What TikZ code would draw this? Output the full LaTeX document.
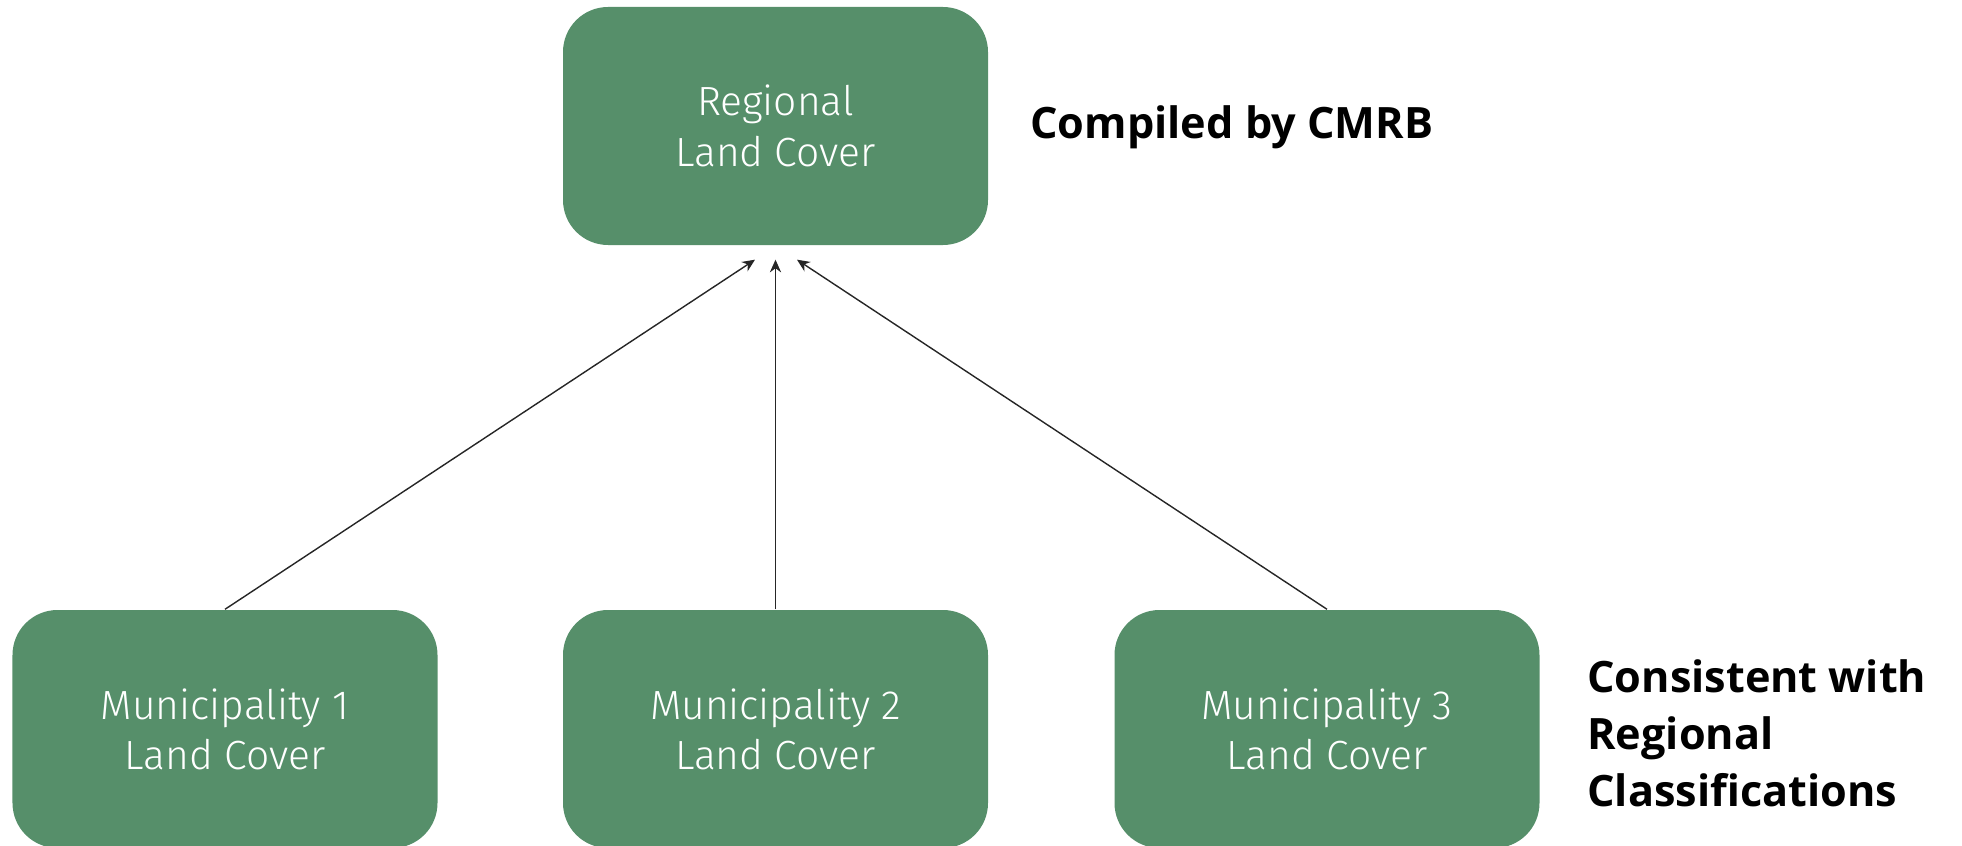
\documentclass[tikz,border=0pt]{standalone}
\usepackage{fontspec}
\setmainfont{Fira Sans}
\newfontfamily\boxfont{Fira Sans Light}
\newfontfamily\notefont{Open Sans}
\usetikzlibrary{arrows.meta}

\definecolor{boxgreen}{RGB}{86,143,106}

\tikzset{
    landbox/.style={rectangle, rounded corners=0.45cm, fill=boxgreen, text=white,
        minimum width=4.25cm, minimum height=2.38cm, align=center,
        font=\boxfont\fontsize{11.6}{14.3}\selectfont},
    note/.style={align=left, font=\notefont\bfseries\fontsize{12.3}{16.2}\selectfont},
    feed/.style={-{Stealth[length=3.6pt,width=3.2pt]}, draw=black!85, line width=0.4pt}
}

\begin{document}
\begin{tikzpicture}
    \useasboundingbox (0,0) rectangle (19.62,8.45);

    % Boxes
    \node[landbox] (regional) at (7.755,7.19) {Regional\\Land Cover};
    \node[landbox] (muni1) at (2.25,1.16) {Municipality 1\\Land Cover};
    \node[landbox] (muni2) at (7.755,1.16) {Municipality 2\\Land Cover};
    \node[landbox] (muni3) at (13.27,1.16) {Municipality 3\\Land Cover};

    % Notes
    \node[note, anchor=west] (compiled) at (10.18,7.18) {Compiled by CMRB};
    \node[note, anchor=west] (consistent) at (15.75,1.12) {Consistent with\\Regional\\Classifications};

    % Arrows into the regional box
    \coordinate (tipL) at ([xshift=-0.205cm,yshift=-0.14cm]regional.south);
    \coordinate (tipM) at ([yshift=-0.14cm]regional.south);
    \coordinate (tipR) at ([xshift=0.215cm,yshift=-0.14cm]regional.south);
    \draw[feed] (muni1.north) -- (tipL);
    \draw[feed] (muni2.north) -- (tipM);
    \draw[feed] (muni3.north) -- (tipR);
\end{tikzpicture}
\end{document}
